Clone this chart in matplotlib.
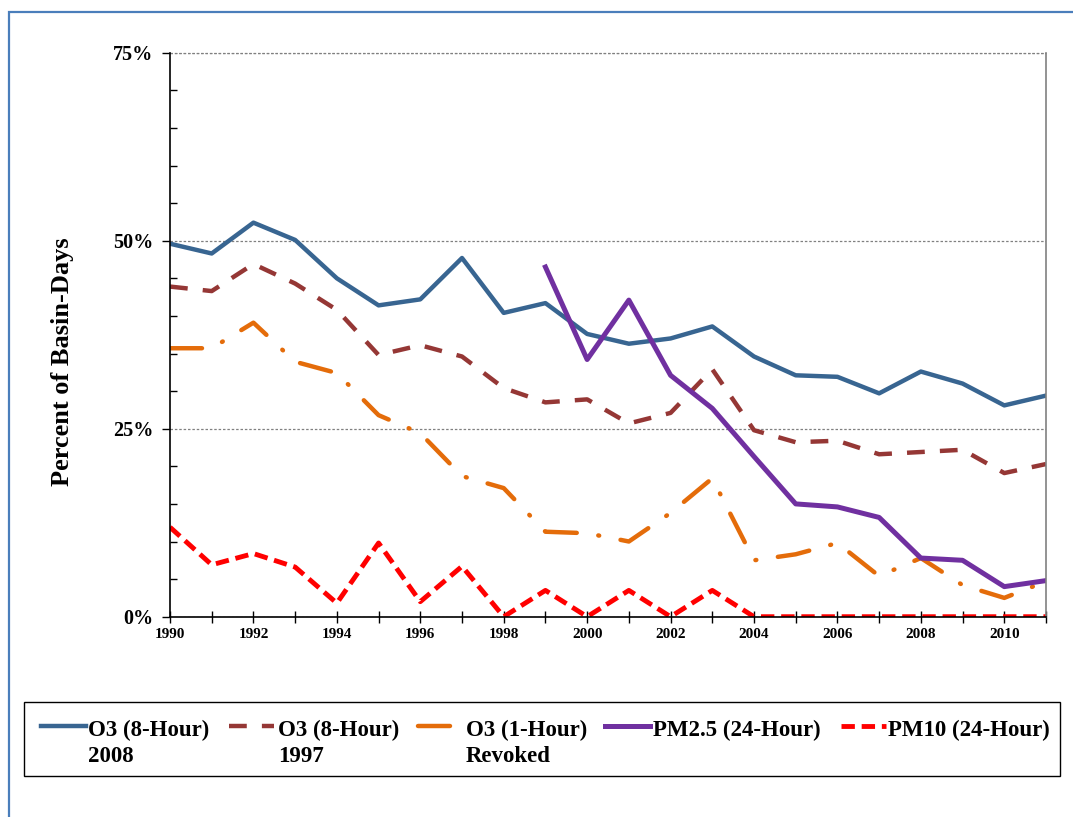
import matplotlib
matplotlib.use("Agg")
import matplotlib.pyplot as plt
from matplotlib.patches import Rectangle
from matplotlib.lines import Line2D
from matplotlib.ticker import MultipleLocator, FuncFormatter

plt.rcParams['font.family'] = ['Liberation Serif', 'DejaVu Serif']
plt.rcParams['font.weight'] = 'bold'

years = list(range(1990, 2012))
pm25_years = list(range(1999, 2012))

# percent of basin-days exceeding each standard
o3_8h_2008 = [49.6, 48.3, 52.4, 50.1, 45.0, 41.4, 42.2, 47.7, 40.4, 41.7, 37.6,
              36.3, 37.0, 38.6, 34.6, 32.1, 31.9, 29.7, 32.6, 31.0, 28.1, 29.4]
o3_8h_1997 = [43.9, 43.3, 46.9, 44.3, 40.8, 34.8, 36.1, 34.6, 30.4, 28.5, 28.9,
              25.7, 27.1, 32.9, 24.8, 23.2, 23.4, 21.6, 21.9, 22.2, 19.1, 20.3]
o3_1h = [35.7, 35.7, 39.1, 33.9, 32.4, 26.8, 24.4, 18.7, 17.1, 11.3, 11.1,
         10.0, 13.8, 18.4, 7.5, 8.3, 9.8, 5.4, 7.8, 4.2, 2.5, 4.7]
pm25 = [46.5, 34.2, 42.1, 32.1, 27.7, 21.3, 15.0, 14.6, 13.2, 7.8, 7.5, 4.0, 4.8]
pm10 = [11.9, 6.9, 8.4, 6.6, 1.8, 9.8, 2.0, 6.7, 0.0, 3.5, 0.0,
        3.5, 0.0, 3.5, 0.0, 0.0, 0.0, 0.0, 0.0, 0.0, 0.0, 0.0]

labels = ['O3 (8-Hour)\n2008', 'O3 (8-Hour)\n1997', 'O3 (1-Hour)\nRevoked',
          'PM2.5 (24-Hour)', 'PM10 (24-Hour)']
colors = ['#386591', '#953735', '#E46C0A', '#7030A0', '#FF0000']

W, H = 1073, 817
fig = plt.figure(figsize=(10.73, 8.17), dpi=100)
ax = fig.add_axes([170 / W, 1 - 616.7 / H, 876 / W, 564 / H])

styles = [
    dict(lw=3.2),
    dict(lw=3.2, dashes=(4.0, 3.4)),
    dict(lw=3.2, dashes=(7.2, 4.9, 0.2, 4.9), dash_capstyle='round'),
    dict(lw=3.6),
    dict(lw=3.5, dashes=(2.75, 1.4)),
]

series = [(years, o3_8h_2008), (years, o3_8h_1997), (years, o3_1h),
          (pm25_years, pm25), (years, pm10)]
for (xs, ys), c, st in zip(series, colors, styles):
    ax.plot(xs, ys, color=c, **st)

ax.set_xlim(1990, 2011)
ax.set_ylim(0, 75)
ax.xaxis.set_major_locator(MultipleLocator(2))
ax.xaxis.set_minor_locator(MultipleLocator(1))
ax.yaxis.set_major_locator(MultipleLocator(25))
ax.yaxis.set_minor_locator(MultipleLocator(5))
ax.yaxis.set_major_formatter(FuncFormatter(lambda v, p: '%d%%' % v))

ax.tick_params(axis='x', which='both', direction='inout', length=8, width=1,
               labelsize=11, pad=4)
ax.tick_params(axis='y', which='major', direction='out', length=6, width=1,
               labelsize=14.5, pad=6)
ax.tick_params(axis='y', which='minor', direction='in', length=5, width=1)

ax.grid(axis='y', which='major', color='#808080', linestyle=(0, (2, 1.5)),
        linewidth=0.9)
ax.spines['top'].set_visible(False)
ax.spines['right'].set_color('#808080')
ax.spines['right'].set_linewidth(1.2)
ax.spines['left'].set_linewidth(1.2)
ax.spines['bottom'].set_linewidth(1.2)
ax.axhline(75, color='#808080', linestyle=(0, (2, 1.5)), linewidth=0.9,
           clip_on=False)

fig.text(62 / W, 1 - 362 / H, 'Percent of Basin-Days', rotation=90,
         ha='center', va='center', fontsize=19, fontweight='bold')

# legend drawn by hand so the two-line labels sit like the original
fig.patches.append(Rectangle((24 / W, 1 - 776 / H), 1036 / W, 74 / H,
                             transform=fig.transFigure, fill=False,
                             edgecolor='black', linewidth=1.0))
handle_x = [41, 229, 418, 605, 841]
text_x = [88, 278, 466, 653, 888]
for hx, tx, lab, c, st in zip(handle_x, text_x, labels, colors, styles):
    hy = 1 - 726 / H
    fig.lines.append(Line2D([hx / W, (hx + 45) / W], [hy, hy],
                            transform=fig.transFigure, color=c, **st))
    for i, part in enumerate(lab.split('\n')):
        fig.text(tx / W, 1 - (736 + 25.7 * i) / H, part, ha='left',
                 va='baseline', fontsize=16.5, fontweight='bold')

fig.patches.append(Rectangle((9 / W, -0.1), 1.2, 1 - 12 / H + 0.1,
                             transform=fig.transFigure, fill=False,
                             edgecolor='#4A7EBB', linewidth=1.6))

fig.savefig('out.png', dpi=100)
